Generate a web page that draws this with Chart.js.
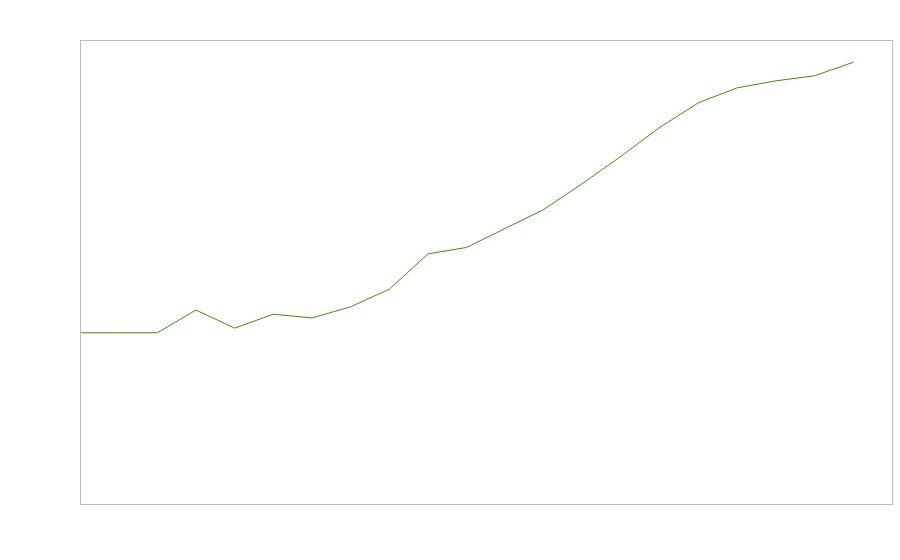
<!DOCTYPE html>
<html>
<head>
<meta charset="utf-8">
<script src="https://cdn.jsdelivr.net/npm/chart.js@4"></script>
<style>
html,body{margin:0;padding:0;background:#fff;}
#wrap{width:900px;height:560px;position:relative;}
</style>
</head>
<body>
<div id="wrap"><canvas id="c" width="900" height="560"></canvas></div>
<script>
const categories = [0,1,2,3,4,5,6,7,8,9,10,11,12,13,14,15,16,17,18,19,20];
const values = [36.9,36.9,36.9,41.8,37.9,40.9,40.1,42.5,46.3,53.9,55.3,59.4,63.5,69.1,75.0,81.2,86.5,89.7,91.2,92.3,95.2];

const frame = {
  id:'frame',
  afterDraw(chart){
    const a = chart.chartArea, ctx = chart.ctx;
    ctx.save();
    ctx.strokeStyle = '#bdbdbd';
    ctx.lineWidth = 1;
    ctx.strokeRect(Math.round(a.left)+0.5, Math.round(a.top)+0.5, Math.round(a.right-a.left), Math.round(a.bottom-a.top));
    ctx.restore();
  }
};

new Chart(document.getElementById('c'), {
  type:'line',
  data:{
    datasets:[{
      data: categories.map((c,i)=>({x:c,y:values[i]})),
      borderColor:'#3f8c14',
      borderWidth:1,
      pointRadius:0,
      tension:0,
      fill:false
    }]
  },
  options:{
    responsive:false,
    animation:false,
    layout:{padding:{left:80,top:40,right:8,bottom:56}},
    plugins:{legend:{display:false},tooltip:{enabled:false}},
    scales:{
      x:{type:'linear',min:0,max:21,display:false},
      y:{min:0,max:100,display:false}
    }
  },
  plugins:[frame]
});
</script>
</body>
</html>
